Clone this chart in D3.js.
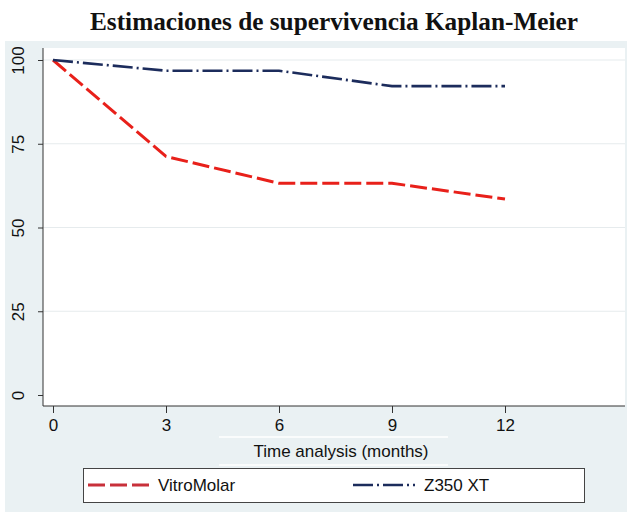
<!DOCTYPE html>
<html><head><meta charset="utf-8">
<script src="https://cdn.jsdelivr.net/npm/d3@7"></script>
<style>body{margin:0;background:#fff}svg{display:block}</style>
</head><body>
<svg id="c" width="627" height="512"></svg>
<script>
const months = [0, 3, 6, 9, 12];
const vitroMolar = [100, 71.2, 63.2, 63.2, 58.5];
const z350xt = [100, 96.8, 96.8, 92.2, 92.2];
const xTicks = [0, 3, 6, 9, 12];
const yTicks = [0, 25, 50, 75, 100];
const seriesNames = ["VitroMolar", "Z350 XT"];
const title = "Estimaciones de supervivencia Kaplan-Meier";
const xTitle = "Time analysis (months)";

const svg = d3.select("#c");
const W = 627, H = 512;
const sans = "'Liberation Sans Narrow','Liberation Sans',Arial,sans-serif";

svg.append("rect").attr("x",0).attr("y",0).attr("width",W).attr("height",H).attr("fill","#fff");
svg.append("rect").attr("x",5).attr("y",41).attr("width",W-5).attr("height",H-41).attr("fill","#eaf1f3");

svg.append("text").attr("x",334).attr("y",30).attr("text-anchor","middle")
  .attr("font-family","'Liberation Serif','Times New Roman',serif").attr("font-weight","bold")
  .attr("font-size",25).attr("textLength",488).attr("lengthAdjust","spacingAndGlyphs")
  .attr("fill","#111").text(title);

const plot = {l:43, r:625, t:48, b:406};
const x = d3.scaleLinear().domain([0,12]).range([53,505]);
const y = d3.scaleLinear().domain([0,100]).range([395,60]);

svg.append("rect").attr("x",plot.l).attr("y",plot.t).attr("width",plot.r-plot.l).attr("height",plot.b-plot.t).attr("fill","#fff");

// gridlines
svg.append("g").selectAll("line").data(yTicks.filter(d=>d>0)).join("line")
  .attr("x1",plot.l).attr("x2",plot.r).attr("y1",d=>y(d)).attr("y2",d=>y(d))
  .attr("stroke","#e6ebed").attr("stroke-width",1.2);

// y axis
const ya = svg.append("g").attr("transform",`translate(${plot.l},0)`)
  .call(d3.axisLeft(y).tickValues(yTicks).tickSize(5).tickPadding(9));
ya.select(".domain").attr("d",`M0,${plot.t}V${plot.b}`).attr("stroke","#333");
ya.selectAll(".tick line").attr("stroke","#333");
ya.selectAll(".tick text").attr("font-family",sans).attr("font-size",17).attr("fill","#111")
  .attr("text-anchor","middle").attr("transform","rotate(-90)")
  .attr("x",0).attr("y",-25).attr("dy","0.35em");

// x axis
const xa = svg.append("g").attr("transform",`translate(0,${plot.b})`)
  .call(d3.axisBottom(x).tickValues(xTicks).tickSize(7).tickPadding(6));
xa.select(".domain").attr("d",`M${plot.l},0H${plot.r}`).attr("stroke","#333");
xa.selectAll(".tick line").attr("stroke","#333");
xa.selectAll(".tick text").attr("font-family",sans).attr("font-size",17).attr("fill","#111");

// faint white lines around x title
[437, 465].forEach(yy=>svg.append("line").attr("x1",219).attr("x2",448).attr("y1",yy).attr("y2",yy).attr("stroke","#fff").attr("stroke-width",1.5));

svg.append("text").attr("x",341).attr("y",457).attr("text-anchor","middle")
  .attr("font-family",sans).attr("font-size",17).attr("fill","#111").text(xTitle);

const line = d3.line().x((d,i)=>x(months[i])).y(d=>y(d));
svg.append("path").attr("d",line(vitroMolar)).attr("fill","none").attr("stroke","#e8201a")
  .attr("stroke-width",3).attr("stroke-dasharray","17,5");
svg.append("path").attr("d",line(z350xt)).attr("fill","none").attr("stroke","#1c2c5c")
  .attr("stroke-width",2.6).attr("stroke-dasharray","20,4,2,4");

// legend
svg.append("rect").attr("x",83.5).attr("y",468.5).attr("width",501).attr("height",34)
  .attr("fill","#fff").attr("stroke","#444").attr("stroke-width",1);
const leg = [
  {name:seriesNames[0], x1:88, x2:152, tx:158, color:"#c8303a", dash:"17,5", w:3},
  {name:seriesNames[1], x1:353, x2:415, tx:424, color:"#1c2c5c", dash:"20,4,2,4", w:2.6}
];
leg.forEach(l=>{
  svg.append("line").attr("x1",l.x1).attr("x2",l.x2).attr("y1",485).attr("y2",485)
    .attr("stroke",l.color).attr("stroke-width",l.w).attr("stroke-dasharray",l.dash);
  svg.append("text").attr("x",l.tx).attr("y",491).attr("font-family",sans).attr("font-size",17)
    .attr("fill","#111").text(l.name);
});
</script>
</body></html>
